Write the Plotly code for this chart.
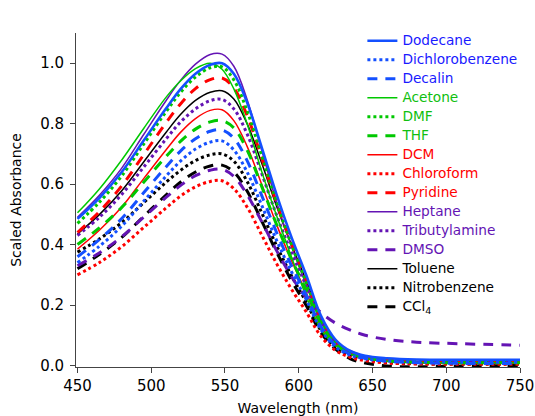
import plotly.graph_objects as go

# Wavelength grid (nm)
wavelength = [450, 465, 480, 495, 510, 520, 530, 540, 548, 556, 565, 575, 585,
              595, 605, 615, 625, 635, 645, 660, 680, 710, 750]

# Scaled absorbance of each solvent
dodecane = [0.485, 0.555, 0.640, 0.745, 0.850, 0.915, 0.965, 0.995, 1.000, 0.965, 0.870, 0.720, 0.565,
            0.425, 0.300, 0.165, 0.085, 0.048, 0.032, 0.024, 0.020, 0.019, 0.019]
dichlorobenzene = [0.340, 0.395, 0.461, 0.544, 0.626, 0.677, 0.716, 0.739, 0.743, 0.713, 0.640, 0.529, 0.414,
                   0.311, 0.219, 0.119, 0.061, 0.034, 0.022, 0.015, 0.012, 0.011, 0.011]
decalin = [0.360, 0.417, 0.486, 0.572, 0.657, 0.710, 0.750, 0.775, 0.779, 0.752, 0.678, 0.561, 0.440,
           0.331, 0.234, 0.129, 0.066, 0.037, 0.024, 0.014, 0.009, 0.007, 0.007]
acetone = [0.505, 0.585, 0.680, 0.785, 0.887, 0.942, 0.982, 1.000, 0.980, 0.915, 0.800, 0.640, 0.495,
           0.360, 0.230, 0.120, 0.065, 0.038, 0.024, 0.014, 0.010, 0.009, 0.009]
dmf = [0.470, 0.541, 0.627, 0.733, 0.839, 0.904, 0.954, 0.985, 0.988, 0.945, 0.842, 0.693, 0.540,
       0.401, 0.277, 0.150, 0.077, 0.044, 0.027, 0.017, 0.012, 0.011, 0.011]
thf = [0.400, 0.456, 0.523, 0.607, 0.691, 0.742, 0.782, 0.806, 0.810, 0.786, 0.713, 0.591, 0.466,
       0.352, 0.251, 0.138, 0.071, 0.040, 0.026, 0.016, 0.011, 0.009, 0.009]
dcm = [0.385, 0.448, 0.524, 0.619, 0.713, 0.772, 0.817, 0.844, 0.846, 0.810, 0.725, 0.598, 0.466,
       0.348, 0.242, 0.131, 0.068, 0.038, 0.025, 0.015, 0.010, 0.008, 0.008]
chloroform = [0.300, 0.341, 0.393, 0.457, 0.521, 0.561, 0.591, 0.609, 0.611, 0.585, 0.524, 0.431, 0.337,
              0.253, 0.178, 0.097, 0.050, 0.027, 0.016, 0.008, 0.005, 0.004, 0.004]
pyridine = [0.440, 0.510, 0.594, 0.698, 0.803, 0.866, 0.916, 0.946, 0.951, 0.918, 0.827, 0.685, 0.537,
            0.404, 0.285, 0.157, 0.081, 0.046, 0.030, 0.019, 0.014, 0.012, 0.012]
heptane = [0.490, 0.564, 0.653, 0.765, 0.876, 0.944, 0.997, 1.029, 1.030, 0.990, 0.880, 0.710, 0.540,
           0.395, 0.268, 0.147, 0.076, 0.042, 0.027, 0.018, 0.014, 0.013, 0.013]
tributylamine = [0.430, 0.491, 0.566, 0.657, 0.749, 0.806, 0.849, 0.876, 0.880, 0.849, 0.766, 0.634, 0.497,
                 0.374, 0.264, 0.145, 0.075, 0.042, 0.026, 0.016, 0.011, 0.010, 0.010]
dmso = [0.330, 0.373, 0.426, 0.491, 0.556, 0.596, 0.628, 0.646, 0.649, 0.626, 0.565, 0.475, 0.380,
        0.295, 0.225, 0.175, 0.140, 0.117, 0.100, 0.086, 0.077, 0.072, 0.067]
toluene = [0.435, 0.500, 0.578, 0.674, 0.771, 0.831, 0.877, 0.904, 0.909, 0.882, 0.800, 0.668, 0.527,
           0.400, 0.282, 0.159, 0.082, 0.045, 0.028, 0.017, 0.012, 0.010, 0.010]
nitrobenzene = [0.375, 0.419, 0.473, 0.539, 0.606, 0.646, 0.678, 0.697, 0.700, 0.676, 0.609, 0.504, 0.396,
                0.298, 0.210, 0.116, 0.060, 0.034, 0.020, 0.010, 0.006, 0.005, 0.005]
ccl4 = [0.320, 0.368, 0.424, 0.494, 0.564, 0.607, 0.640, 0.660, 0.663, 0.640, 0.577, 0.477, 0.375,
        0.282, 0.199, 0.109, 0.054, 0.022, 0.008, -0.002, -0.004, -0.002, 0.000]

BLUE = "#1450ff"
GREEN = "#00c800"
RED = "#ff0000"
PURPLE = "#6414b4"
BLACK = "#000000"
TEXT = {BLUE: "#1a1aff", GREEN: "#10c010", RED: "#ff0000", PURPLE: "#6414b4", BLACK: "#000000"}

# name, values, colour, dash, width
series = [
    ("Dodecane", dodecane, BLUE, "solid", 2.6),
    ("Dichlorobenzene", dichlorobenzene, BLUE, "dot", 3),
    ("Decalin", decalin, BLUE, "10px,8px", 3),
    ("Acetone", acetone, GREEN, "solid", 1.5),
    ("DMF", dmf, GREEN, "dot", 3),
    ("THF", thf, GREEN, "10px,8px", 3),
    ("DCM", dcm, RED, "solid", 1.5),
    ("Chloroform", chloroform, RED, "dot", 3),
    ("Pyridine", pyridine, RED, "10px,8px", 3),
    ("Heptane", heptane, PURPLE, "solid", 1.5),
    ("Tributylamine", tributylamine, PURPLE, "dot", 3),
    ("DMSO", dmso, PURPLE, "10px,8px", 3),
    ("Toluene", toluene, BLACK, "solid", 1.5),
    ("Nitrobenzene", nitrobenzene, BLACK, "dot", 3),
    ("CCl<sub>4</sub>", ccl4, BLACK, "10px,8px", 3),
]

fig = go.Figure()
for name, values, colour, dash, width in series:
    # legend text takes the colour of its line
    label = f"<span style='color:{TEXT[colour]};font-size:13.7px'>{name}</span>"
    fig.add_trace(go.Scatter(x=wavelength, y=values, mode="lines", name=label,
                             line=dict(color=colour, dash=dash, width=width, shape="spline", smoothing=1.0)))

# draw the first series last so it sits on top, as in the original
fig.data = fig.data[1:][::-1] + fig.data[:1]

axis_style = dict(showline=True, linecolor="#444444", linewidth=1, ticks="outside", ticklen=5,
                  tickcolor="#444444", showgrid=False, zeroline=False, automargin=False,
                  tickfont=dict(size=15, color="black"), mirror=False)

fig.update_layout(
    width=535, height=416,
    margin=dict(l=76, r=15, t=33, b=49),
    plot_bgcolor="white", paper_bgcolor="white",
    font=dict(family="DejaVu Sans", size=14, color="black"),
    showlegend=True,
    legend=dict(x=0.645, y=1.02, xanchor="left", yanchor="top", traceorder="reversed",
                font=dict(size=11.2), bgcolor="rgba(0,0,0,0)", itemwidth=30, maxheight=1.0),
    xaxis=dict(range=[449, 750], tickvals=[450, 500, 550, 600, 650, 700, 750],
               title=dict(text="Wavelength (nm)", font=dict(size=14)), **axis_style),
    yaxis=dict(range=[-0.005, 1.1], tickvals=[0, 0.2, 0.4, 0.6, 0.8, 1.0], tickformat=".1f",
               ticklabelstandoff=3,
               title=dict(text="Scaled Absorbance", font=dict(size=14)), **axis_style),
)

# drop the page's default body margin so the figure fills the window exactly
fig.write_html("out.html", config={"displayModeBar": False},
               post_script="document.body.style.margin='0';")
